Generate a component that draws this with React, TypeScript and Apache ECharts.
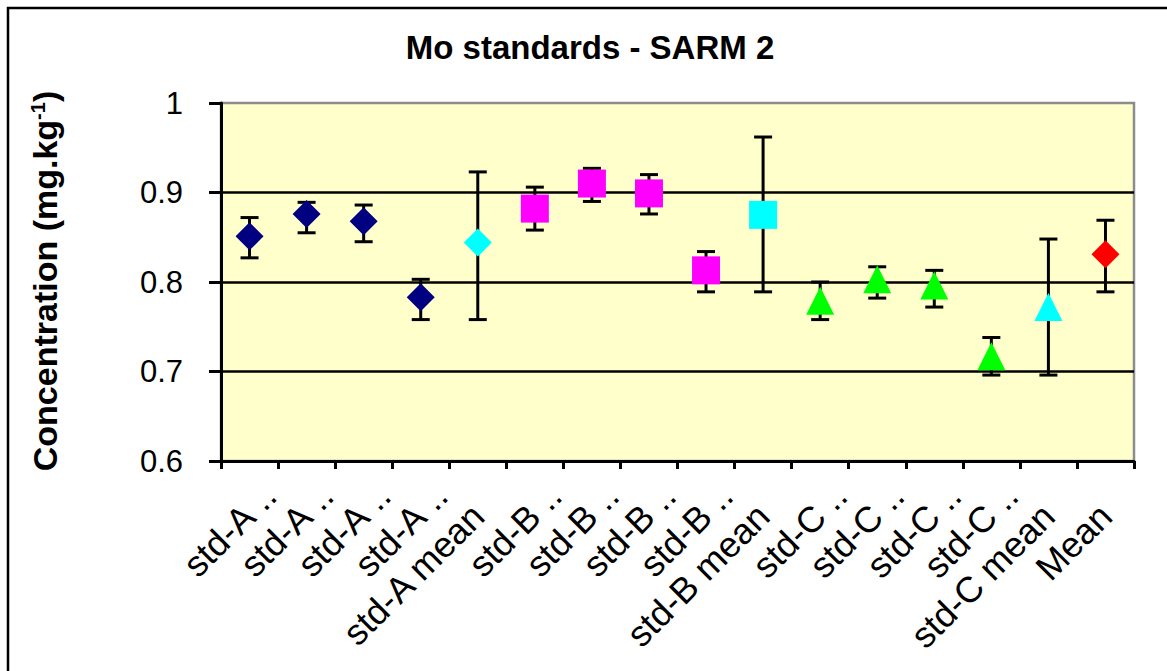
import React, { useEffect, useRef } from 'react';
import * as echarts from 'echarts';

// Sample labels along the category axis
const categories = [
  'std-A..', 'std-A..', 'std-A..', 'std-A..', 'std-A mean',
  'std-B..', 'std-B..', 'std-B..', 'std-B..', 'std-B mean',
  'std-C..', 'std-C..', 'std-C..', 'std-C..', 'std-C mean',
  'Mean',
];

// Measured Mo concentration (mg/kg) per sample
const concentration = [
  0.851, 0.876, 0.868, 0.783, 0.844,
  0.882, 0.910, 0.899, 0.813, 0.875,
  0.779, 0.803, 0.796, 0.717, 0.772,
  0.831,
];

// Upper and lower ends of each error bar
const upperLimit = [
  0.872, 0.889, 0.886, 0.803, 0.923,
  0.906, 0.927, 0.920, 0.834, 0.962,
  0.800, 0.817, 0.813, 0.738, 0.848,
  0.869,
];
const lowerLimit = [
  0.827, 0.855, 0.845, 0.758, 0.758,
  0.858, 0.890, 0.876, 0.789, 0.789,
  0.758, 0.782, 0.772, 0.696, 0.696,
  0.789,
];

// Index ranges of each sample group on the category axis
const groupA = [0, 1, 2, 3];
const groupAMean = [4];
const groupB = [5, 6, 7, 8];
const groupBMean = [9];
const groupC = [10, 11, 12, 13];
const groupCMean = [14];
const overallMean = [15];

const yMin = 0.6;
const yMax = 1.0;
const yStep = 0.1;

const FONT = '"Liberation Sans", Arial, sans-serif';
const X_LABEL_SIZE = 36;

const pointsFor = (idx: number[]) => idx.map((i) => [i, concentration[i]]);

// Truncated labels: the trailing dots overflow past the label anchor
const formatCategory = (label: string) => {
  if (label.endsWith('..')) {
    return `{t|${label.slice(0, -2)}}{d| ..}`;
  }
  return `{t|${label}}`;
};

export default function App() {
  const ref = useRef<HTMLDivElement>(null);

  useEffect(() => {
    if (!ref.current) return;
    const chart = echarts.init(ref.current, undefined, { renderer: 'svg' });

    const marker = (name: string, idx: number[], symbol: string, color: string) => ({
      name,
      type: 'scatter',
      data: pointsFor(idx),
      symbol,
      symbolSize: 28,
      itemStyle: { color, opacity: 1 },
      z: 5,
    });

    chart.setOption({
      animation: false,
      backgroundColor: '#ffffff',
      grid: {
        left: 221,
        right: 33,
        top: 103,
        bottom: 210,
        show: true,
        backgroundColor: '#FFFFCC',
        borderColor: '#8c8c8c',
        borderWidth: 2.5,
      },
      graphic: [
        {
          type: 'rect',
          shape: { x: 8, y: 8, width: 1200, height: 700 },
          style: { fill: 'none', stroke: '#000', lineWidth: 2.5 },
          silent: true,
          z: 100,
        },
        {
          type: 'text',
          x: 590,
          y: 47,
          style: {
            text: 'Mo standards - SARM 2',
            font: `bold 33px ${FONT}`,
            fill: '#000',
            align: 'center',
            verticalAlign: 'middle',
          },
        },
        {
          type: 'text',
          x: 45,
          y: 281,
          rotation: Math.PI / 2,
          style: {
            text: 'Concentration (mg.kg{sup|-1})',
            font: `bold 34px ${FONT}`,
            fill: '#000',
            align: 'center',
            verticalAlign: 'middle',
            rich: {
              sup: { fontSize: 20, fontWeight: 'bold', fontFamily: FONT, verticalAlign: 'top', lineHeight: 34 },
            },
          },
        },
      ],
      xAxis: {
        type: 'category',
        data: categories,
        boundaryGap: true,
        axisLine: { show: true, lineStyle: { color: '#000', width: 3 } },
        axisTick: { show: true, length: 8, lineStyle: { color: '#000', width: 3 } },
        axisLabel: {
          interval: 0,
          rotate: 45,
          margin: 49,
          color: '#000',
          fontSize: X_LABEL_SIZE,
          fontFamily: FONT,
          formatter: formatCategory,
          rich: {
            t: { fontSize: X_LABEL_SIZE, fontFamily: FONT, color: '#000' },
            d: { fontSize: X_LABEL_SIZE, fontFamily: FONT, color: '#000', padding: [0, -29, 0, 0] },
          },
        },
        splitLine: { show: false },
      },
      yAxis: {
        type: 'value',
        min: yMin,
        max: yMax,
        interval: yStep,
        axisLine: { show: true, lineStyle: { color: '#000', width: 3 } },
        axisTick: { show: true, length: 12, lineStyle: { color: '#000', width: 3 } },
        axisLabel: {
          color: '#000',
          fontSize: 31,
          fontFamily: FONT,
          margin: 38,
          formatter: (v: number) => String(parseFloat(v.toFixed(1))),
        },
        splitLine: {
          show: true,
          showMinLine: false,
          showMaxLine: false,
          lineStyle: { color: '#000', width: 2.5 },
        },
      },
      series: [
        {
          name: 'error',
          type: 'custom',
          data: concentration.map((_, i) => [i, lowerLimit[i], upperLimit[i]]),
          encode: { x: 0, y: [1, 2] },
          z: 3,
          renderItem: (_params: any, api: any) => {
            const x = api.value(0);
            const lo = api.coord([x, api.value(1)]);
            const hi = api.coord([x, api.value(2)]);
            const hw = 9;
            const style = { stroke: '#000', lineWidth: 3 };
            return {
              type: 'group',
              children: [
                { type: 'line', shape: { x1: hi[0], y1: hi[1], x2: lo[0], y2: lo[1] }, style },
                { type: 'line', shape: { x1: hi[0] - hw, y1: hi[1], x2: hi[0] + hw, y2: hi[1] }, style },
                { type: 'line', shape: { x1: lo[0] - hw, y1: lo[1], x2: lo[0] + hw, y2: lo[1] }, style },
              ],
            };
          },
        },
        marker('std-A', groupA, 'diamond', '#000080'),
        marker('std-A mean', groupAMean, 'diamond', '#00FFFF'),
        marker('std-B', groupB, 'rect', '#FF00FF'),
        marker('std-B mean', groupBMean, 'rect', '#00FFFF'),
        marker('std-C', groupC, 'triangle', '#00FF00'),
        marker('std-C mean', groupCMean, 'triangle', '#00FFFF'),
        marker('Mean', overallMean, 'diamond', '#FF0000'),
      ],
    });

    return () => chart.dispose();
  }, []);

  return (
    <div
      ref={ref}
      style={{ position: 'absolute', left: 0, top: 0, width: 1167, height: 671, background: '#fff' }}
    />
  );
}
